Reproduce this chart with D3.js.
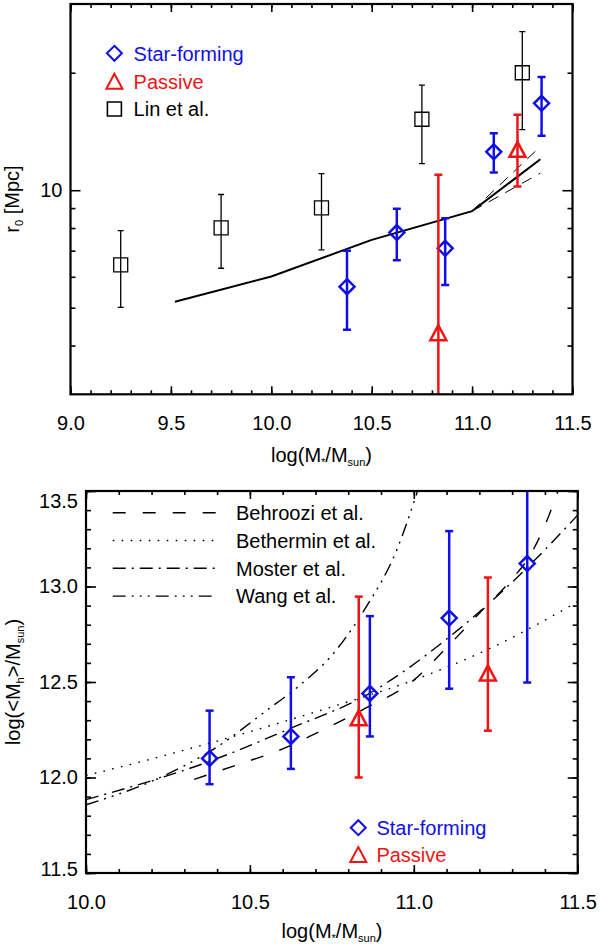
<!DOCTYPE html>
<html>
<head>
<meta charset="utf-8">
<script src="https://cdn.jsdelivr.net/npm/d3@7"></script>
<style>
  body { margin: 0; background: #fff; }
  text { font-family: 'Liberation Sans', Arial, sans-serif; }
</style>
</head>
<body>
<div id="chart"></div>
<script>
// --- data ---
// top panel: r0 vs stellar mass
var linMass = [9.25, 9.75, 10.25, 10.75, 11.25]
var linR0 = [6.44, 8.01, 9.01, 15.2, 20.0]
var linR0Hi = [7.88, 9.75, 11.03, 18.6, 25.5]
var linR0Lo = [5.01, 6.31, 7.03, 11.7, 14.3]

var sfMass = [10.377, 10.625, 10.866, 11.108, 11.346]
var sfR0 = [5.66, 7.79, 7.10, 12.54, 16.7]
var sfR0Hi = [7.0, 8.96, 8.48, 14.0, 19.5]
var sfR0Lo = [4.39, 6.62, 5.72, 11.1, 13.8]

var pasMass = [10.832, 11.226]
var pasR0 = [4.30, 12.69]
var pasR0Hi = [10.95, 15.6]
var pasR0Lo = [2.0, 10.22]

var modelMass = [9.52, 10.0, 10.5, 11.0, 11.34]
var modelR0 = [5.18, 6.01, 7.46, 8.84, 12.0]
var envMass = [11.0, 11.34]
var envHi = [8.84, 12.94]
var envLo = [8.84, 11.06]

// bottom panel: halo mass vs stellar mass
var sfMh = [12.10, 12.215, 12.44, 12.835, 13.12]
var sfMhHi = [12.35, 12.525, 12.845, 13.29, 13.75]
var sfMhLo = [11.965, 12.045, 12.215, 12.465, 12.497]

var pasMh = [12.31, 12.545]
var pasMhHi = [12.947, 13.047]
var pasMhLo = [12.0, 12.245]

var behrooziMass = [10.33, 10.45, 10.6, 10.7, 10.85, 11.0, 11.1, 11.2, 11.3, 11.35, 11.4, 11.44]
var behrooziMh = [11.99, 12.06, 12.15, 12.23, 12.36, 12.51, 12.68, 12.86, 13.04, 13.15, 13.32, 13.5]
var bethMass = [10.0, 10.25, 10.5, 10.75, 11.0, 11.25, 11.5]
var bethMh = [12.01, 12.12, 12.24, 12.37, 12.51, 12.69, 12.92]
var mosterMass = [10.0, 10.376, 10.625, 10.857, 11.11, 11.349, 11.5]
var mosterMh = [11.884, 12.084, 12.258, 12.433, 12.738, 13.104, 13.374]
var wangMass = [10.0, 10.2, 10.4, 10.55, 10.65, 10.75, 10.85, 10.95, 11.0, 11.03]
var wangMh = [11.857, 11.98, 12.16, 12.35, 12.48, 12.64, 12.88, 13.2, 13.44, 13.6]

var topXTicks = [9.0, 9.5, 10.0, 10.5, 11.0, 11.5]
var botXTicks = [10.0, 10.5, 11.0, 11.5]
var botYTicks = [11.5, 12.0, 12.5, 13.0, 13.5]
var topYTicks = [10]
var topYMinor = [4, 5, 6, 7, 8, 9, 20]

var BLUE = '#1010e6'
var RED = '#f01414'

var width = 600
var height = 944

var svg = d3.select('#chart').append('svg')
  .attr('width', width)
  .attr('height', height)

function range(a, b, step) {
  var out = []
  for (var v = a; v <= b + 1e-9; v += step) out.push(+v.toFixed(2))
  return out
}

// draws inward ticks on all four sides of a panel
function drawAxes(g, x, y, opts) {
  var x0 = x.range()[0], x1 = x.range()[1]
  var y0 = y.range()[0], y1 = y.range()[1]

  g.append('g').attr('transform', 'translate(0,' + y0 + ')')
    .call(d3.axisBottom(x).tickValues(opts.xMinor).tickSize(-4).tickFormat(''))
  g.append('g').attr('transform', 'translate(0,' + y0 + ')')
    .call(d3.axisBottom(x).tickValues(opts.xMajor).tickSize(-8).tickPadding(22).tickFormat(d3.format('.1f')))
  g.append('g').attr('transform', 'translate(0,' + y1 + ')')
    .call(d3.axisTop(x).tickValues(opts.xMinor).tickSize(-4).tickFormat(''))
  g.append('g').attr('transform', 'translate(0,' + y1 + ')')
    .call(d3.axisTop(x).tickValues(opts.xMajor).tickSize(-8).tickFormat(''))

  g.append('g').attr('transform', 'translate(' + x0 + ',0)')
    .call(d3.axisLeft(y).tickValues(opts.yMinor).tickSize(-5).tickFormat(''))
  g.append('g').attr('class', 'ylab').attr('transform', 'translate(' + x0 + ',0)')
    .call(d3.axisLeft(y).tickValues(opts.yMajor).tickSize(-10).tickPadding(8).tickFormat(opts.yFormat))
  g.append('g').attr('transform', 'translate(' + x1 + ',0)')
    .call(d3.axisRight(y).tickValues(opts.yMinor).tickSize(-5).tickFormat(''))
  g.append('g').attr('transform', 'translate(' + x1 + ',0)')
    .call(d3.axisRight(y).tickValues(opts.yMajor).tickSize(-10).tickFormat(''))

  g.selectAll('.domain').remove()
  g.selectAll('.tick line').attr('stroke', '#000').attr('stroke-width', 1.6)
  g.selectAll('.tick text').attr('font-size', 20).attr('fill', '#000')
    .attr('font-family', "'Liberation Sans', Arial, sans-serif")

  g.append('rect')
    .attr('x', x0).attr('y', y1)
    .attr('width', x1 - x0).attr('height', y0 - y1)
    .attr('fill', 'none').attr('stroke', '#000').attr('stroke-width', 2.2)
}

function diamond(s) { return 'M0,' + (-s) + 'L' + s + ',0L0,' + s + 'L' + (-s) + ',0Z' }
function triangle(s) { return 'M0,' + (-s) + 'L' + s + ',' + (s - 1) + 'L' + (-s) + ',' + (s - 1) + 'Z' }
function square(s) { return 'M' + (-s) + ',' + (-s) + 'h' + 2 * s + 'v' + 2 * s + 'h' + (-2 * s) + 'Z' }

function errPoints(g, x, y, xs, ys, his, los, color, sw, cap, shape) {
  xs.forEach(function (m, i) {
    var cx = x(m)
    g.append('line')
      .attr('x1', cx).attr('x2', cx)
      .attr('y1', y(his[i])).attr('y2', y(los[i]))
      .attr('stroke', color).attr('stroke-width', sw)
    ;[his[i], los[i]].forEach(function (v) {
      g.append('line')
        .attr('x1', cx - cap).attr('x2', cx + cap)
        .attr('y1', y(v)).attr('y2', y(v))
        .attr('stroke', color).attr('stroke-width', sw)
    })
    g.append('path')
      .attr('d', shape)
      .attr('transform', 'translate(' + cx + ',' + y(ys[i]) + ')')
      .attr('fill', 'none').attr('stroke', color).attr('stroke-width', sw)
  })
}

// ================= TOP PANEL =================
var xTop = d3.scaleLinear().domain([9.0, 11.5]).range([70.5, 572.5])
var yTop = d3.scaleLog().domain([3, 30]).range([394.3, 4])

var topPanel = svg.append('g')
svg.append('clipPath').attr('id', 'clipTop').append('rect')
  .attr('x', 70.5).attr('y', 4).attr('width', 502).attr('height', 390.3)

var topData = topPanel.append('g').attr('clip-path', 'url(#clipTop)')

var lineTop = d3.line().x(function (d) { return xTop(d[0]) }).y(function (d) { return yTop(d[1]) })

topData.append('path')
  .attr('d', lineTop(d3.zip(modelMass, modelR0)))
  .attr('fill', 'none').attr('stroke', '#000').attr('stroke-width', 2)
;[envHi, envLo].forEach(function (env) {
  topData.append('path')
    .attr('d', lineTop(d3.zip(envMass, env)))
    .attr('fill', 'none').attr('stroke', '#000').attr('stroke-width', 1)
    .attr('stroke-dasharray', '11,8')
})

errPoints(topData, xTop, yTop, linMass, linR0, linR0Hi, linR0Lo, '#000', 1.3, 3, square(7))
errPoints(topData, xTop, yTop, sfMass, sfR0, sfR0Hi, sfR0Lo, BLUE, 2.5, 4, diamond(7.5))
errPoints(topData, xTop, yTop, pasMass, pasR0, pasR0Hi, pasR0Lo, RED, 2.5, 4, triangle(8))

drawAxes(topPanel, xTop, yTop, {
  xMajor: topXTicks,
  xMinor: range(9.0, 11.5, 0.1),
  yMajor: topYTicks,
  yMinor: topYMinor,
  yFormat: d3.format('d')
})

// legend (top)
var legTop = [
  { label: 'Star-forming', color: BLUE, shape: diamond(7.5), sw: 2, y: 53.3 },
  { label: 'Passive', color: RED, shape: triangle(8), sw: 2, y: 81.7 },
  { label: 'Lin et al.', color: '#000', shape: square(7), sw: 1.6, y: 109 }
]
legTop.forEach(function (d) {
  topPanel.append('path').attr('d', d.shape)
    .attr('transform', 'translate(114.4,' + d.y + ')')
    .attr('fill', 'none').attr('stroke', d.color).attr('stroke-width', d.sw)
  topPanel.append('text').attr('x', 133.6).attr('y', d.y).attr('dy', '0.36em')
    .attr('font-size', 20).attr('fill', d.color).text(d.label)
})

// axis titles (top)
var tTop = topPanel.append('text').attr('x', 321.5).attr('y', 462)
  .attr('text-anchor', 'middle').attr('font-size', 20)
tTop.append('tspan').text('log(M')
tTop.append('tspan').attr('font-size', 11).attr('dy', 4).text('*')
tTop.append('tspan').attr('dy', -4).text('/M')
tTop.append('tspan').attr('font-size', 11).attr('dy', 4).text('sun')
tTop.append('tspan').attr('dy', -4).text(')')

var yt = topPanel.append('text').attr('transform', 'translate(19,199) rotate(-90)')
  .attr('text-anchor', 'middle').attr('font-size', 20)
yt.append('tspan').text('r')
yt.append('tspan').attr('font-size', 11).attr('dy', 4).text('0')
yt.append('tspan').attr('dy', -4).text(' [Mpc]')

// ================= BOTTOM PANEL =================
var xBot = d3.scaleLinear().domain([10.0, 11.5]).range([86, 577.7])
var yBot = d3.scaleLinear().domain([11.5, 13.5]).range([873, 491])

var botPanel = svg.append('g')
svg.append('clipPath').attr('id', 'clipBot').append('rect')
  .attr('x', 86).attr('y', 491).attr('width', 491.7).attr('height', 382)
var botData = botPanel.append('g').attr('clip-path', 'url(#clipBot)')

var lineBot = d3.line().curve(d3.curveMonotoneX)
  .x(function (d) { return xBot(d[0]) }).y(function (d) { return yBot(d[1]) })

var models = [
  { label: 'Behroozi et al.', mass: behrooziMass, mh: behrooziMh, dash: '13,17' },
  { label: 'Bethermin et al.', mass: bethMass, mh: bethMh, dash: '1.6,7.4' },
  { label: 'Moster et al.', mass: mosterMass, mh: mosterMh, dash: '13,6,2,6' },
  { label: 'Wang et al.', mass: wangMass, mh: wangMh, dash: '13,6,2,6,2,6,2,6' }
]
models.forEach(function (m) {
  botData.append('path')
    .attr('d', lineBot(d3.zip(m.mass, m.mh)))
    .attr('fill', 'none').attr('stroke', '#000').attr('stroke-width', 1.4)
    .attr('stroke-dasharray', m.dash)
})

errPoints(botData, xBot, yBot, sfMass, sfMh, sfMhHi, sfMhLo, BLUE, 2.5, 4, diamond(7.5))
errPoints(botData, xBot, yBot, pasMass, pasMh, pasMhHi, pasMhLo, RED, 2.5, 4, triangle(8))

drawAxes(botPanel, xBot, yBot, {
  xMajor: botXTicks,
  xMinor: range(10.0, 11.5, 0.1),
  yMajor: botYTicks,
  yMinor: range(11.5, 13.5, 0.1),
  yFormat: d3.format('.1f')
})
// end labels sit inside the frame like the original
botPanel.selectAll('.ylab .tick text').attr('dy', function (d) {
  if (d === 13.5) return '0.82em'
  if (d === 11.5) return '0.1em'
  return '0.32em'
})

// legend (bottom, model lines)
models.forEach(function (m, i) {
  var ly = 512.7 + i * 27.8
  botPanel.append('line').attr('x1', 112.7).attr('x2', 217.7)
    .attr('y1', ly).attr('y2', ly)
    .attr('stroke', '#000').attr('stroke-width', 1.4).attr('stroke-dasharray', m.dash)
  botPanel.append('text').attr('x', 236).attr('y', ly).attr('dy', '0.36em')
    .attr('font-size', 20).text(m.label)
})

// legend (bottom, samples)
var legBot = [
  { label: 'Star-forming', color: BLUE, shape: diamond(7.5), y: 827.7 },
  { label: 'Passive', color: RED, shape: triangle(8), y: 855 }
]
legBot.forEach(function (d) {
  botPanel.append('path').attr('d', d.shape)
    .attr('transform', 'translate(358.3,' + d.y + ')')
    .attr('fill', 'none').attr('stroke', d.color).attr('stroke-width', 2)
  botPanel.append('text').attr('x', 376.4).attr('y', d.y).attr('dy', '0.36em')
    .attr('font-size', 20).attr('fill', d.color).text(d.label)
})

var tBot = botPanel.append('text').attr('x', 332).attr('y', 938)
  .attr('text-anchor', 'middle').attr('font-size', 20)
tBot.append('tspan').text('log(M')
tBot.append('tspan').attr('font-size', 11).attr('dy', 4).text('*')
tBot.append('tspan').attr('dy', -4).text('/M')
tBot.append('tspan').attr('font-size', 11).attr('dy', 4).text('sun')
tBot.append('tspan').attr('dy', -4).text(')')

var yb = botPanel.append('text').attr('transform', 'translate(20,682) rotate(-90)')
  .attr('text-anchor', 'middle').attr('font-size', 20)
yb.append('tspan').text('log(<M')
yb.append('tspan').attr('font-size', 11).attr('dy', 4).text('h')
yb.append('tspan').attr('dy', -4).text('>/M')
yb.append('tspan').attr('font-size', 11).attr('dy', 4).text('sun')
yb.append('tspan').attr('dy', -4).text(')')
</script>
</body>
</html>
